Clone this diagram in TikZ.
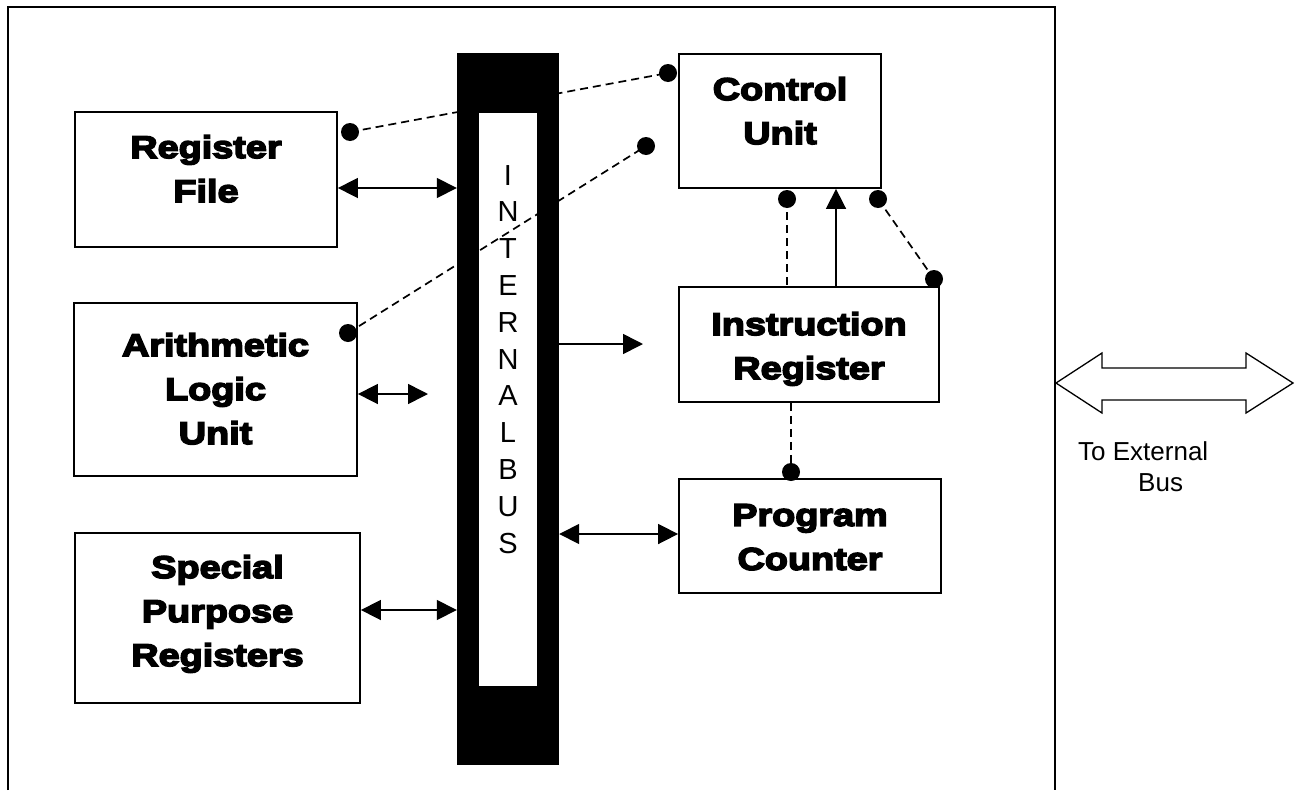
\documentclass[tikz,border=0pt]{standalone}
\usepackage{fontspec}
\setmainfont{Liberation Sans}
\newfontfamily\heavyfont{Liberation Sans Bold}[FakeBold=5,FakeStretch=1.2]
\usetikzlibrary{arrows.meta,calc}
\begin{document}
\begin{tikzpicture}[x=1pt,y=-1pt,
  box/.style={draw, line width=1.8pt, inner sep=0pt},
  lbl/.style={font=\heavyfont\fontsize{31.5}{44}\selectfont, align=center, anchor=north, inner sep=0pt},
  dot/.style={circle, fill=black, inner sep=0pt, minimum size=18pt},
  link/.style={line width=1.7pt, dash pattern=on 8pt off 5pt},
  bi/.style={line width=1.6pt, {Triangle[length=20pt,width=20pt]}-{Triangle[length=20pt,width=20pt]}},
  uni/.style={line width=1.6pt, -{Triangle[length=20pt,width=20pt]}}]
\useasboundingbox (0,0) rectangle (1298,790);
% outer frame
\draw[line width=1.8pt] (8,790) -- (8,7) -- (1055,7) -- (1055,790);
% internal bus
\node[fill=black, minimum width=102pt, minimum height=712pt, inner sep=0pt] (bus) at (508,409) {};
\node[fill=white, minimum width=58pt, minimum height=573pt, inner sep=0pt] (strip) at (508,399.5) {};
\node[font=\fontsize{29}{36.8}\selectfont, align=center, anchor=north, inner sep=0pt] (busText) at (508,165) {I\\N\\T\\E\\R\\N\\A\\L\\B\\U\\S};
% boxes
\node[box, minimum width=262pt, minimum height=135pt] (rf) at (206,179.5) {};
\node[lbl] (rfText) at (206,135) {Register\\File};
\node[box, minimum width=283pt, minimum height=173pt] (alu) at (215.5,389.5) {};
\node[lbl] (aluText) at (215.5,333) {Arithmetic\\Logic\\Unit};
\node[box, minimum width=285pt, minimum height=170pt] (spr) at (217.5,618) {};
\node[lbl] (sprText) at (217.5,555) {Special\\Purpose\\Registers};
\node[box, minimum width=202pt, minimum height=134pt] (cu) at (780,121) {};
\node[lbl] (cuText) at (780,77) {Control\\Unit};
\node[box, minimum width=260pt, minimum height=115pt] (ir) at (809,344.5) {};
\node[lbl] (irText) at (809,312) {Instruction\\Register};
\node[box, minimum width=262pt, minimum height=114pt] (pc) at (810,536) {};
\node[lbl] (pcText) at (810,504) {Program\\Counter};
% dots
\coordinate (d1) at (350,132);
\coordinate (d2) at (668,73);
\coordinate (d3) at (348,333);
\coordinate (d4) at (646,146);
\coordinate (d5) at (787,199);
\coordinate (d6) at (878,199);
\coordinate (d7) at (934,279);
\coordinate (d8) at (791,472);
% dashed control lines
\draw[link] (d1) -- (d2);
\draw[link] (d3) -- (d4);
\draw[link] (d5) -- (d5 |- ir.north);
\draw[link] (d6) -- (d7);
\draw[link] (d8 |- ir.south) -- (d8);
\foreach \d in {d1,d2,d3,d4,d5,d6,d7,d8} \node[dot] (\d n) at (\d) {};
% data arrows
\draw[bi] ([yshift=-8.5pt]rf.east) -- ([yshift=-8.5pt]rf.east -| bus.west);
\coordinate (aluEnd) at (428,394);
\draw[bi] ([yshift=-4.5pt]alu.east) -- (aluEnd);
\draw[bi] ([yshift=8pt]spr.east) -- ([yshift=8pt]spr.east -| bus.west);
\coordinate (irIn) at (643,344);
\draw[uni] (strip.east |- irIn) -- (irIn);
\draw[bi] ([yshift=2pt]pc.west -| bus.east) -- ([yshift=2pt]pc.west);
\draw[uni] ([xshift=27pt]ir.north) -- ([xshift=27pt]ir.north |- cu.south);
% external bus arrow
\draw[line width=1.3pt] (1056,383) -- (1102,353) -- (1102,368) -- (1246,368) -- (1246,353) -- (1293,383) -- (1246,413) -- (1246,400) -- (1102,400) -- (1102,413) -- cycle;
\node[font=\fontsize{26}{31}\selectfont, align=left, anchor=north west, inner sep=0pt] (ext) at (1078,441) {To External\\\hspace*{60pt}Bus};
\end{tikzpicture}
\end{document}
